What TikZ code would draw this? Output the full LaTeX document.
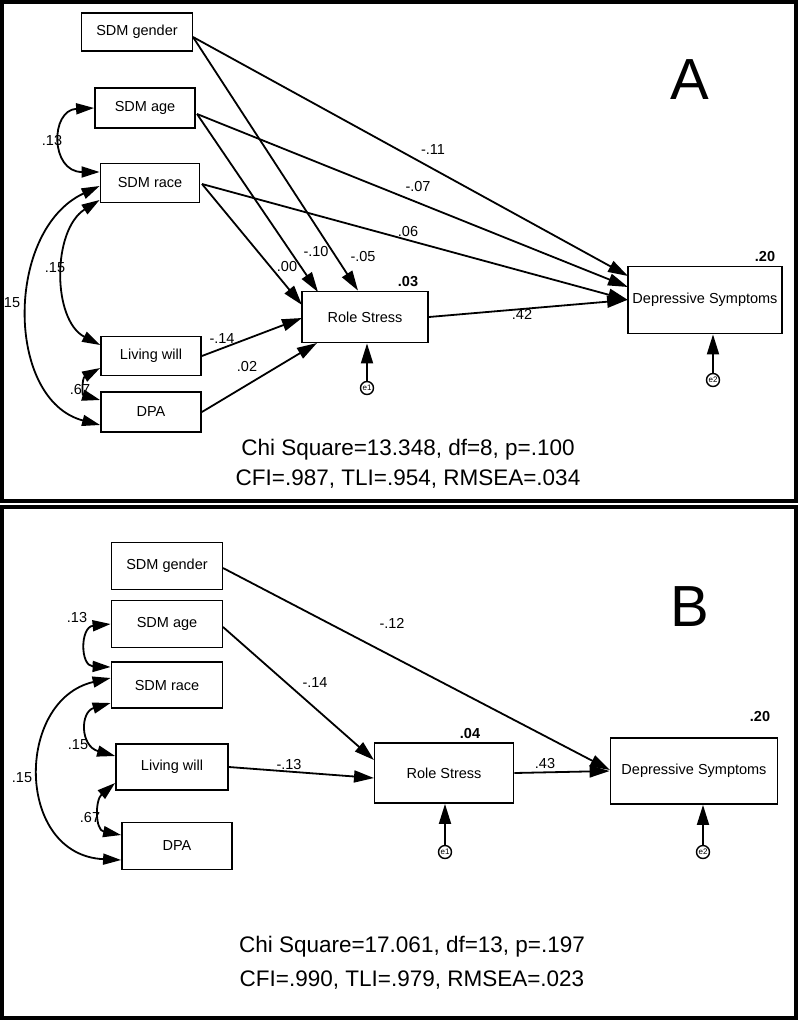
\documentclass[tikz,border=0pt]{standalone}
\usepackage{fontspec}
\setmainfont{Liberation Sans}
\usetikzlibrary{arrows.meta}
\begin{document}
\begin{tikzpicture}[x=1pt,y=-1pt,
 box/.style={draw,line width=1.8pt,inner sep=0pt,font=\fontsize{14.5}{16}\selectfont},
 err/.style={draw,circle,line width=1.4pt,inner sep=0pt,minimum size=13pt,font=\fontsize{8}{9}\selectfont},
 arr/.style={line width=1.8pt,-{Triangle[length=20pt,width=12pt]}},
 cov/.style={line width=1.8pt,{Triangle[length=18pt,width=11pt]}-{Triangle[length=18pt,width=11pt]}},
 lab/.style={font=\fontsize{14.5}{16}\selectfont,inner sep=1pt},
 r2/.style={font=\bfseries\fontsize{14.5}{16}\selectfont},
 fit/.style={font=\fontsize{22.5}{26}\selectfont},
 frame/.style={draw,line width=3.5pt}]
\useasboundingbox (0,0) rectangle (799,1021);
\draw[frame] (2,2) rectangle (796,501);
\draw[frame] (2,507) rectangle (796,1018);
% ---------- A ----------
\node[box,minimum width=111pt,minimum height=38pt] (ag) at (137,32) {SDM gender};
\node[box,minimum width=100pt,minimum height=40pt] (aa) at (145,108) {SDM age};
\node[box,minimum width=99pt,minimum height=39pt] (ar) at (150,183) {SDM race};
\node[box,minimum width=100pt,minimum height=39pt] (al) at (151,356) {Living will};
\node[box,minimum width=100pt,minimum height=40pt] (ad) at (151,412) {DPA};
\node[box,minimum width=126pt,minimum height=51pt] (ars) at (365,317) {Role Stress};
\node[box,minimum width=154pt,minimum height=67pt] (ads) at (705,300) {Depressive Symptoms};
\node[err] (ae1) at (367,388) {e1};
\node[err] (ae2) at (713,380) {e2};
\node[font=\fontsize{58}{64}\selectfont] (aA) at (690,80) {A};
\node[r2] (a03) at (408,282) {.03};
\node[r2] (a20) at (765,257) {.20};
\coordinate (ags) at (193,37); \coordinate (aas) at (197,114); \coordinate (ars0) at (202,184);
\draw[arr] (ags) -- (ars.north -| 358,0);
\draw[arr] (ags) -- (628,276);
\draw[arr] (aas) -- (318,292);
\draw[arr] (aas) -- (628,287);
\draw[arr] (ars0) -- (302,305);
\draw[arr] (ars0) -- (628,300);
\draw[arr] (al.east) -- (302,318);
\draw[arr] (ad.east) -- (317,343);
\draw[arr] (ars.east) -- (ads.west);
\draw[arr] (ae1) -- (ars.south -| ae1);
\draw[arr] (ae2) -- (ads.south -| ae2);
\draw[cov] (aa.west) .. controls (50,110) and (50,172) .. (ar.west |- 0,172);
\draw[cov] (ar.west |- 0,200) .. controls (52,230) and (52,320) .. (al.west |- 0,345);
\draw[cov] (ar.west |- 0,186) .. controls (5,230) and (5,400) .. (ad.west |- 0,425);
\draw[cov] (al.west |- 0,368) .. controls (82,378) and (82,395) .. (ad.west |- 0,400);
\node[lab] (l1) at (433,150) {-.11};
\node[lab] (l2) at (418,187) {-.07};
\node[lab] (l3) at (408,232) {.06};
\node[lab] (l4) at (287,267) {.00};
\node[lab] (l5) at (316,252) {-.10};
\node[lab] (l6) at (363,257) {-.05};
\node[lab] (l7) at (522,314) {.42};
\node[lab] (l8) at (222,339) {-.14};
\node[lab] (l9) at (247,367) {.02};
\node[lab] (l10) at (52,141) {.13};
\node[lab] (l11) at (55,268) {.15};
\node[lab] (l12) at (10,303) {.15};
\node[lab] (l13) at (80,390) {.67};
\node[fit] (af1) at (408,450) {Chi Square=13.348, df=8, p=.100};
\node[fit] (af2) at (408,479) {CFI=.987, TLI=.954, RMSEA=.034};
% ---------- B ----------
\node[box,minimum width=111pt,minimum height=47pt] (bg) at (167,566) {SDM gender};
\node[box,minimum width=111pt,minimum height=47pt] (ba) at (167,624) {SDM age};
\node[box,minimum width=111pt,minimum height=46pt] (br) at (167,685) {SDM race};
\node[box,minimum width=112pt,minimum height=46pt] (bl) at (172,767) {Living will};
\node[box,minimum width=110pt,minimum height=47pt] (bd) at (177,846) {DPA};
\node[box,minimum width=139pt,minimum height=60pt] (brs) at (444,773) {Role Stress};
\node[box,minimum width=167pt,minimum height=66pt] (bds) at (694,771) {Depressive Symptoms};
\node[err] (be1) at (445,852) {e1};
\node[err] (be2) at (703,852) {e2};
\node[font=\fontsize{58}{64}\selectfont] (bB) at (690,607) {B};
\node[r2] (b04) at (470,733) {.04};
\node[r2] (b20) at (760,716) {.20};
\draw[arr] (223,568) -- (610,770);
\draw[arr] (223,627) -- (374,760);
\draw[arr] (bl.east) -- (374,778);
\draw[arr] (brs.east) -- (bds.west);
\draw[arr] (be1) -- (brs.south -| be1);
\draw[arr] (be2) -- (bds.south -| be2);
\draw[cov] (ba.west) .. controls (80,627) and (80,666) .. (br.west |- 0,667);
\draw[cov] (br.west |- 0,703) .. controls (80,712) and (80,746) .. (bl.west |- 0,756);
\draw[cov] (br.west |- 0,678) .. controls (15,700) and (15,855) .. (bd.west |- 0,860);
\draw[cov] (bl.west |- 0,783) .. controls (95,800) and (95,830) .. (bd.west |- 0,835);
\node[lab] (m1) at (392,623) {-.12};
\node[lab] (m2) at (315,683) {-.14};
\node[lab] (m3) at (289,764) {-.13};
\node[lab] (m4) at (545,763) {.43};
\node[lab] (m5) at (77,617) {.13};
\node[lab] (m6) at (78,745) {.15};
\node[lab] (m7) at (22,778) {.15};
\node[lab] (m8) at (90,817) {.67};
\node[fit] (bf1) at (412,947) {Chi Square=17.061, df=13, p=.197};
\node[fit] (bf2) at (412,980) {CFI=.990, TLI=.979, RMSEA=.023};
\end{tikzpicture}
\end{document}
